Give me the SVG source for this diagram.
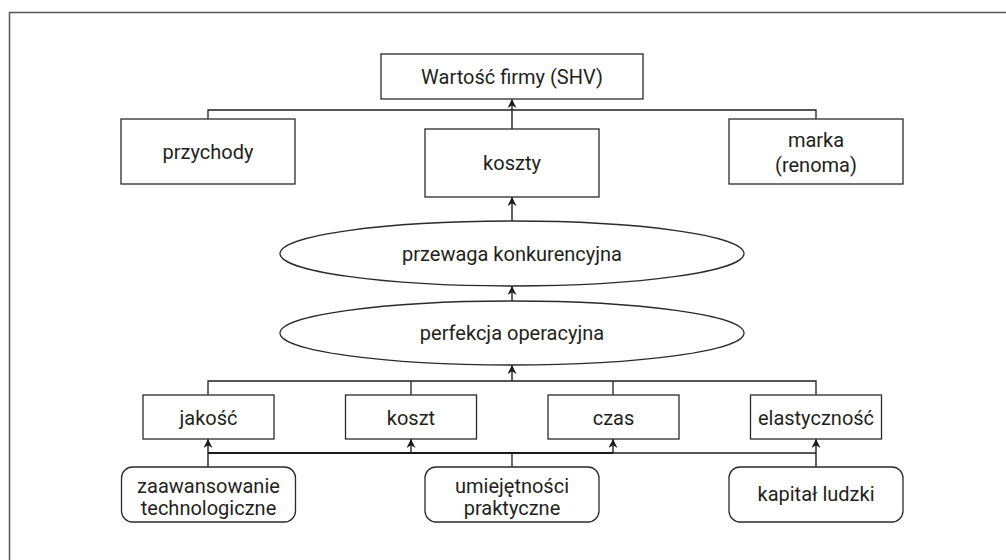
<svg xmlns="http://www.w3.org/2000/svg" width="1006" height="560" viewBox="0 0 1006 560">
  <defs>
    <marker id="arrow" viewBox="0 0 10 10" refX="10" refY="5" markerWidth="10" markerHeight="9" markerUnits="userSpaceOnUse" orient="auto">
      <path d="M0,0 L10,5 L0,10 L3,5 Z" fill="#1a1a1a"/>
    </marker>
    <style>
      .frame { fill: none; stroke: #555; stroke-width: 1.5; }
      .box { fill: #fff; stroke: #2a2a2a; stroke-width: 1.3; }
      .oval { fill: #fff; stroke: #2a2a2a; stroke-width: 1.3; }
      .line { fill: none; stroke: #1f1f1f; stroke-width: 1.3; }
      .bus { fill: none; stroke: #1a1a1a; stroke-width: 2.2; }
      .arrow { fill: none; stroke: #1f1f1f; stroke-width: 1.4; marker-end: url(#arrow); }
      .label { font-family: Roboto, "Liberation Sans", sans-serif; font-size: 20px; fill: #231f20; text-anchor: middle; }
    </style>
  </defs>

  <rect width="1006" height="560" fill="#fff"/>
  <!-- outer frame, open past the right and bottom edges -->
  <rect class="frame" x="9.5" y="12.5" width="1010" height="560"/>

  <!-- connectors -->
  <g id="connectors">
    <!-- value drivers row -->
    <path class="line" d="M208,119 V110 H816 V119"/>
    <path class="arrow" d="M512,129 V99"/>
    <path class="arrow" d="M512,221 V197"/>
    <path class="arrow" d="M512,301 V286"/>
    <!-- operational dimensions row -->
    <path class="line" d="M208,395 V381 H816 V395 M411,381 V395 M613,381 V395"/>
    <path class="arrow" d="M512,381 V365"/>
    <!-- capability bus -->
    <path class="bus" d="M208,453 H613"/>
    <path class="line" d="M613,453 H816"/>
    <path class="line" d="M512,467 V453"/>
    <path class="arrow" d="M208,467 V439"/>
    <path class="arrow" d="M411,453 V439"/>
    <path class="arrow" d="M613,453 V439"/>
    <path class="arrow" d="M816,467 V439"/>
  </g>

  <g id="wartosc">
    <rect class="box" x="381" y="54" width="262" height="45"/>
    <text class="label" x="512" y="84">Wartość firmy (SHV)</text>
  </g>
  <g id="przychody">
    <rect class="box" x="121" y="119" width="174" height="65"/>
    <text class="label" x="208" y="159">przychody</text>
  </g>
  <g id="koszty">
    <rect class="box" x="425" y="129" width="174" height="68"/>
    <text class="label" x="512" y="170">koszty</text>
  </g>
  <g id="marka">
    <rect class="box" x="729" y="119" width="174" height="65"/>
    <text class="label" x="816" y="147">marka</text>
    <text class="label" x="816" y="172">(renoma)</text>
  </g>

  <g id="przewaga">
    <ellipse class="oval" cx="512" cy="253.5" rx="232" ry="32.5"/>
    <text class="label" x="512" y="261">przewaga konkurencyjna</text>
  </g>
  <g id="perfekcja">
    <ellipse class="oval" cx="512" cy="333" rx="232" ry="32"/>
    <text class="label" x="512" y="340">perfekcja operacyjna</text>
  </g>

  <g id="jakosc">
    <rect class="box" x="143" y="395" width="131" height="44"/>
    <text class="label" x="208.5" y="425">jakość</text>
  </g>
  <g id="koszt">
    <rect class="box" x="345.5" y="395" width="131" height="44"/>
    <text class="label" x="411" y="425">koszt</text>
  </g>
  <g id="czas">
    <rect class="box" x="548" y="395" width="131" height="44"/>
    <text class="label" x="613.5" y="425">czas</text>
  </g>
  <g id="elastycznosc">
    <rect class="box" x="750.5" y="395" width="131" height="44"/>
    <text class="label" x="816" y="425">elastyczność</text>
  </g>

  <g id="zaawansowanie">
    <rect class="box" x="121.5" y="467" width="174" height="55" rx="11"/>
    <text class="label" x="208.5" y="493">zaawansowanie</text>
    <text class="label" x="208.5" y="515">technologiczne</text>
  </g>
  <g id="umiejetnosci">
    <rect class="box" x="425" y="467" width="174" height="55" rx="11"/>
    <text class="label" x="512" y="493">umiejętności</text>
    <text class="label" x="512" y="515">praktyczne</text>
  </g>
  <g id="kapital">
    <rect class="box" x="729" y="467" width="174" height="55" rx="11"/>
    <text class="label" x="816" y="501">kapitał ludzki</text>
  </g>
</svg>
